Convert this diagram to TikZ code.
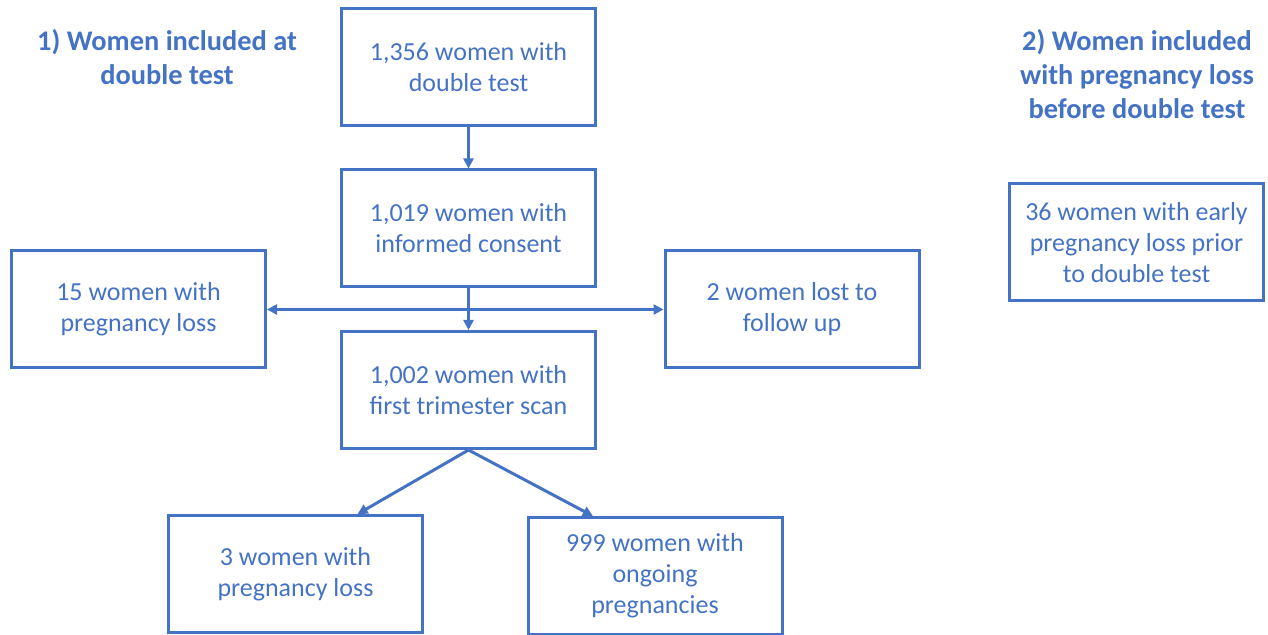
\documentclass[tikz,border=0pt]{standalone}
\usepackage{fontspec}
\setmainfont{Carlito}
\usepackage{tikz}
\usetikzlibrary{arrows.meta,positioning}
\definecolor{flowblue}{HTML}{4472C4}

\begin{document}
\begin{tikzpicture}[x=0.5pt, y=-0.5pt, >={Triangle[length=5pt,width=5pt]},
    flowbox/.style={draw=flowblue, line width=1.5pt, rectangle, minimum width=127pt, minimum height=58.5pt, align=center, text=flowblue, font=\fontsize{13}{15.5}\selectfont},
    heading/.style={align=center, text=flowblue, font=\fontsize{14.2}{17}\selectfont\bfseries},
    link/.style={draw=flowblue, line width=1.5pt}]
        \useasboundingbox (0,0) rectangle (1268,635);
        % Headings
        \node (head1) [heading] at (167,57) {1) Women included at\\double test};
        \node (head2) [heading] at (1137,74) {2) Women included\\with pregnancy loss\\before double test};

        % Nodes
        \node (dbltest) [flowbox] at (468.5,67.5) {1,356 women with\\double test};
        \node (consent) [flowbox] at (468.5,228.5) {1,019 women with\\informed consent};
        \node (lossleft) [flowbox] at (138.5,309.5) {15 women with\\pregnancy loss};
        \node (followup) [flowbox] at (792,309.5) {2 women lost to\\follow up};
        \node (scan) [flowbox] at (468.5,390) {1,002 women with\\first trimester scan};
        \node (lossbottom) [flowbox] at (295.5,574) {3 women with\\pregnancy loss};
        \node (ongoing) [flowbox] at (655,576) {999 women with\\ongoing\\pregnancies};
        \node (early) [flowbox] at (1136.5,242.5) {36 women with early\\pregnancy loss prior\\to double test};

        % Arrows
        \draw[link, ->] (dbltest) -- (consent);
        \draw[link, ->] (consent) -- (scan);
        \draw[link, <->] (lossleft.east) -- (followup.west);
        \draw[link, ->] (scan.south) -- (lossbottom.44);
        \draw[link, ->] (scan.south) -- (ongoing.136);
    \end{tikzpicture}
\end{document}
